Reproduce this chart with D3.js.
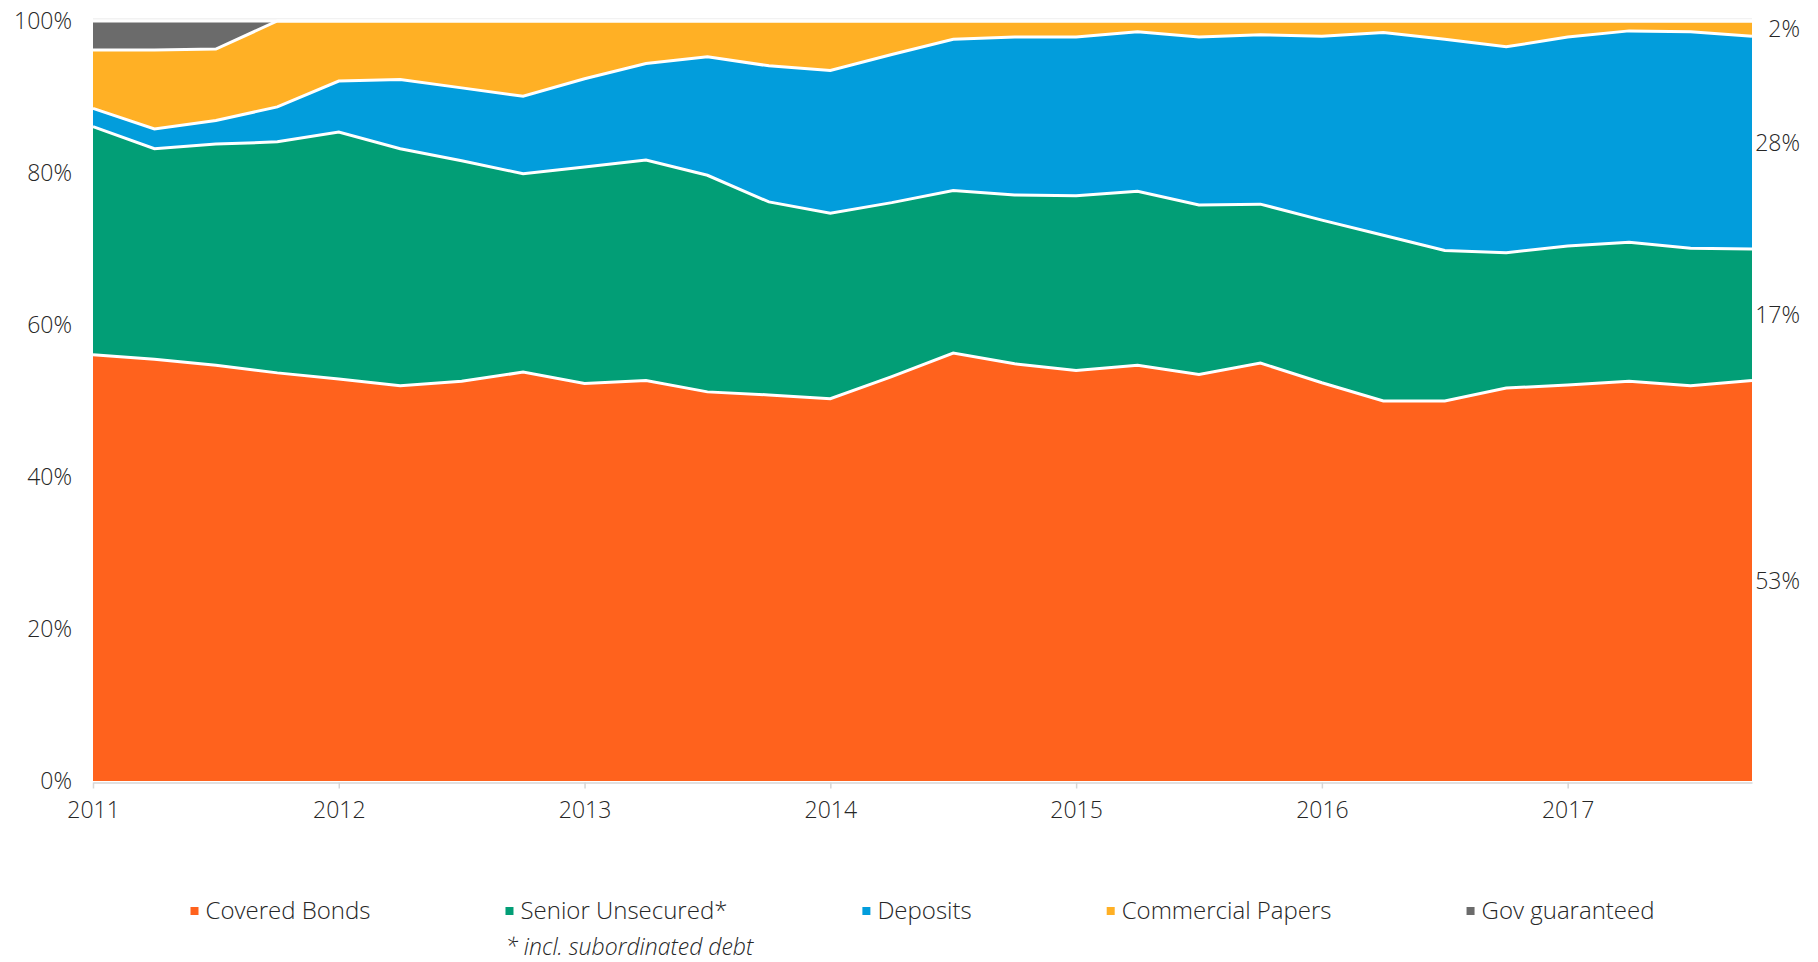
<!DOCTYPE html>
<html>
<head>
<meta charset="utf-8">
<script src="https://cdn.jsdelivr.net/npm/d3@7"></script>
<style>
  html, body { margin: 0; padding: 0; background: #ffffff; }
  svg { display: block; }
  text { font-family: "Open Sans", "Lato", sans-serif; font-weight: 300; fill: #262626; }
</style>
</head>
<body>
<svg id="chart" width="1818" height="962"></svg>
<script>
// ---------- data (shares in %, quarterly 2011Q1 .. 2017Q4) ----------
const years = ["2011", "2012", "2013", "2014", "2015", "2016", "2017"];
const seriesNames = ["Covered Bonds", "Senior Unsecured*", "Deposits", "Commercial Papers", "Gov guaranteed"];
const seriesColors = ["#FF621D", "#029E76", "#029DDC", "#FFB025", "#6B6B6B"];
const coveredBonds = [56.1,55.5,54.7,53.7,52.9,52.0,52.6,53.8,52.3,52.7,51.2,50.8,50.3,53.2,56.3,54.9,54.0,54.7,53.5,55.0,52.4,50.0,50.0,51.7,52.1,52.6,52.0,52.7];
const seniorUnsecured = [30.0,27.7,29.1,30.4,32.5,31.2,29.0,26.1,28.5,29.0,28.5,25.4,24.4,22.9,21.4,22.2,23.0,22.9,22.3,20.9,21.4,21.8,19.8,17.8,18.3,18.3,18.1,17.3];
const deposits = [2.4,2.6,3.1,4.6,6.7,9.1,9.6,10.2,11.6,12.7,15.6,17.9,18.8,19.5,19.9,20.8,20.9,21.0,22.1,22.3,24.2,26.7,27.8,27.1,27.5,27.8,28.5,28.0];
const commercialPapers = [7.7,10.4,9.4,11.3,7.9,7.7,8.8,9.9,7.6,5.6,4.7,5.9,6.5,4.4,2.4,2.1,2.1,1.4,2.1,1.8,2.0,1.5,2.4,3.4,2.1,1.3,1.4,2.0];
const govGuaranteed = [3.8,3.8,3.7,0,0,0,0,0,0,0,0,0,0,0,0,0,0,0,0,0,0,0,0,0,0,0,0,0];
const yTicks = [0, 20, 40, 60, 80, 100];
const footnote = "* incl. subordinated debt";

// ---------- build table ----------
const keys = ["cb", "su", "dep", "cp", "gov"];
const seriesArrays = [coveredBonds, seniorUnsecured, deposits, commercialPapers, govGuaranteed];
const table = coveredBonds.map((_, i) => {
  const row = { q: i };
  keys.forEach((k, j) => row[k] = seriesArrays[j][i]);
  return row;
});
const stacked = d3.stack().keys(keys)(table);

// ---------- layout ----------
const svg = d3.select("#chart");
const margin = { left: 93, right: 66, top: 21, bottom: 181 };
const W = 1818, H = 962;
const x = d3.scaleLinear().domain([0, table.length - 1]).range([margin.left, W - margin.right]);
const y = d3.scaleLinear().domain([0, 100]).range([H - margin.bottom, margin.top]);

// top gridline
svg.append("line")
  .attr("x1", x.range()[0]).attr("x2", x.range()[1])
  .attr("y1", y(100) - 2).attr("y2", y(100) - 2)
  .attr("stroke", "#e4e4e4").attr("stroke-width", 1);

// areas
const area = d3.area().x(d => x(d.data.q)).y0(d => y(d[0])).y1(d => y(d[1]));
svg.append("g").selectAll("path").data(stacked).join("path")
  .attr("d", area)
  .attr("fill", (d, i) => seriesColors[i]);

// white boundary lines on each layer top
const topLine = d3.line().x(d => x(d.data.q)).y(d => y(d[1]));
svg.append("g").selectAll("path").data(stacked).join("path")
  .attr("d", topLine)
  .attr("fill", "none")
  .attr("stroke", "#ffffff")
  .attr("stroke-width", 3)
  .attr("stroke-linejoin", "miter");

// x axis
const xAxis = d3.axisBottom(x)
  .tickValues(years.map((_, i) => i * 4))
  .tickFormat((d, i) => years[i])
  .tickSize(6).tickSizeOuter(0).tickPadding(13);
const gx = svg.append("g").attr("transform", `translate(0,${y(0) + 1.5})`).call(xAxis);
gx.select(".domain").attr("stroke", "#d6d6d6").attr("stroke-width", 1.5);
gx.selectAll(".tick line").attr("stroke", "#d6d6d6").attr("stroke-width", 1.5);
gx.selectAll("text").style("font-size", "23px").style("font-family", null).attr("fill", "#262626");

// y axis
const yAxis = d3.axisLeft(y).tickValues(yTicks).tickFormat(d => d + "%").tickSize(0).tickPadding(21);
const gy = svg.append("g").attr("transform", `translate(${margin.left},0)`).call(yAxis);
gy.select(".domain").remove();
gy.selectAll("text").style("font-size", "23px").style("font-family", null).attr("fill", "#262626");

// right end labels
const last = table.length - 1;
svg.append("g").selectAll("text")
  .data(stacked.filter(s => s[last].data[s.key] > 0))
  .join("text")
  .attr("x", W - 18)
  .attr("y", s => y((s[last][0] + s[last][1]) / 2))
  .attr("dy", "0.35em")
  .attr("text-anchor", "end")
  .style("font-size", "23px")
  .text(s => Math.round(s[last].data[s.key]) + "%");

// legend (centred under plot)
const legend = svg.append("g");
const legendY = 911;
const items = legend.selectAll("g").data(seriesNames).join("g");
items.append("rect").attr("width", 8).attr("height", 8).attr("y", -4)
  .attr("fill", (d, i) => seriesColors[i]);
items.append("text").attr("x", 15).attr("dy", "0.35em").style("font-size", "24px").text(d => d);
const widths = [];
items.each(function () { widths.push(this.getBBox().width); });
const gap = 135;
const total = d3.sum(widths) + gap * (widths.length - 1);
let cx = (x.range()[0] + x.range()[1]) / 2 - total / 2;
const offsets = [];
items.attr("transform", (d, i) => { const t = `translate(${cx},${legendY})`; offsets.push(cx); cx += widths[i] + gap; return t; });

// footnote
svg.append("text")
  .attr("x", offsets[1])
  .attr("y", 947)
  .attr("dy", "0.35em")
  .style("font-size", "23px")
  .style("font-style", "italic")
  .text(footnote);
</script>
</body>
</html>
